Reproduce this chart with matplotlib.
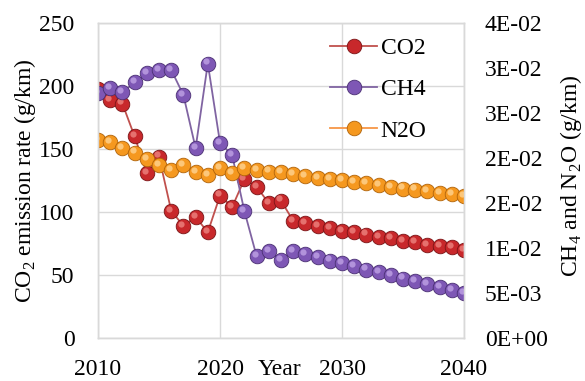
import numpy as np
import matplotlib.pyplot as plt
from matplotlib.transforms import offset_copy

plt.rcParams["font.family"] = ["Liberation Serif", "DejaVu Serif"]
plt.rcParams["mathtext.fontset"] = "custom"
plt.rcParams["mathtext.rm"] = "Liberation Serif"

### data
years = list(range(2010, 2041))
co2 = [198, 189, 186, 160, 131, 144, 101, 89, 96, 84,
       113, 104, 126, 120, 107, 109, 93, 91, 89, 87,
       85, 84, 82, 80, 79, 77, 76, 74, 73, 72, 70]
ch4 = [0.0272, 0.0278, 0.0273, 0.0284, 0.0294, 0.0298, 0.0298, 0.0270, 0.0211, 0.0305,
       0.0217, 0.0203, 0.0141, 0.0091, 0.0097, 0.0087, 0.0097, 0.0093, 0.0090, 0.0086,
       0.0083, 0.0080, 0.0076, 0.0073, 0.0070, 0.0066, 0.0063, 0.0060, 0.0057, 0.0053, 0.0050]
n2o = [0.0220, 0.0218, 0.0211, 0.0206, 0.0199, 0.0192, 0.0187, 0.0192, 0.0184, 0.0181,
       0.0189, 0.0183, 0.0189, 0.0187, 0.0185, 0.0184, 0.0182, 0.0180, 0.0178, 0.0177,
       0.0175, 0.0173, 0.0172, 0.0170, 0.0168, 0.0166, 0.0165, 0.0163, 0.0161, 0.0160, 0.0158]

left_ticks = [0, 50, 100, 150, 200, 250]
right_ticks = [0, 0.005, 0.010, 0.015, 0.020, 0.025, 0.030, 0.035]
right_ticklabels = ["0E+00", "5E-03", "1E-02", "2E-02", "2E-02", "3E-02", "3E-02", "4E-02"]
x_ticks = [2010, 2020, 2030, 2040]

# (line colour, ball colour, ball edge, highlight)
styles = {
    "CO2": ("#C0504D", "#C8282B", "#7A1416", "#F08A86"),
    "CH4": ("#8064A2", "#7E57B5", "#4A2F73", "#C4A8E8"),
    "N2O": ("#F79646", "#F5981F", "#B0630A", "#FFD79A"),
}
FS = 17


def plot_balls(ax, fig, xs, ys, name):
    line_c, ball_c, edge_c, hi_c = styles[name]
    line, = ax.plot(xs, ys, color=line_c, lw=1.3, marker="o", markersize=10.5,
                    markerfacecolor=ball_c, markeredgecolor=edge_c,
                    markeredgewidth=0.6, label=name)
    # small glossy highlight to make the markers look like spheres
    tr = offset_copy(ax.transData, fig=fig, x=-2.0, y=2.2, units="dots")
    ax.plot(xs, ys, ls="none", marker="o", markersize=4.5,
            markerfacecolor=hi_c, markeredgewidth=0, alpha=0.75, transform=tr)
    return line


fig = plt.figure(figsize=(5.85, 3.81), dpi=100)
ax = fig.add_axes([98 / 585, 43 / 381, 366 / 585, 315 / 381])
ax2 = ax.twinx()

l1 = plot_balls(ax, fig, years, co2, "CO2")
l2 = plot_balls(ax2, fig, years, ch4, "CH4")
l3 = plot_balls(ax2, fig, years, n2o, "N2O")

ax.set_xlim(2010, 2040)
ax.set_ylim(0, 250)
ax2.set_ylim(0, 0.035)
ax.set_xticks(x_ticks)
ax.set_yticks(left_ticks)
ax2.set_yticks(right_ticks)
ax2.set_yticklabels(right_ticklabels)

ax.grid(True, color="#D9D9D9", lw=1.0)
ax.set_axisbelow(True)
for a in (ax, ax2):
    for sp in a.spines.values():
        sp.set_color("#D9D9D9")
        sp.set_linewidth(1.0)
ax.tick_params(axis="x", length=0, labelsize=FS, pad=15)
ax.tick_params(axis="y", length=0, labelsize=FS, pad=17)
ax2.tick_params(axis="y", length=0, labelsize=FS, pad=15)

ax.set_ylabel(r"CO$_2$ emission rate (g/km)", fontsize=FS)
ax.yaxis.set_label_coords(-0.165, 0.5)
ax2.set_ylabel(r"CH$_4$ and N$_2$O (g/km)", fontsize=FS)
ax2.yaxis.set_label_coords(1.258, 0.515)
ax.set_xlabel("Year", fontsize=FS)
ax.xaxis.set_label_coords(0.497, -0.066)

ax2.legend([l1, l2, l3], ["CO2", "CH4", "N2O"], loc="upper left",
           bbox_to_anchor=(0.634, 0.953), frameon=False, fontsize=FS,
           labelspacing=0.83, handlelength=2.0, handletextpad=0.15,
           borderaxespad=0, borderpad=0)

plt.savefig("out.png", dpi=100)
